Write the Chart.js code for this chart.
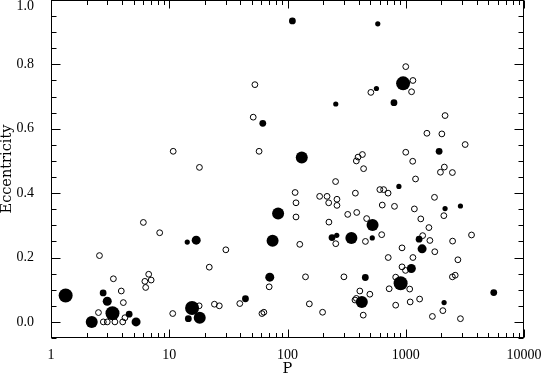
<!DOCTYPE html>
<html>
<head>
<meta charset="utf-8">
<script src="https://cdn.jsdelivr.net/npm/chart.js@4.4.1/dist/chart.umd.min.js"></script>
<style>
  html, body { margin: 0; padding: 0; background: #fff; }
  #wrap { width: 547px; height: 376px; position: relative; }
</style>
</head>
<body>
<div id="wrap"><canvas id="grafico"></canvas></div>
<script>
// ===== dados: [P, excentricidade] =====
const abertos = [
  [53, 0.737], [1000, 0.793], [1150, 0.75], [1120, 0.715], [507, 0.713], [51.3, 0.636], [2150, 0.641],
  [57.5, 0.53], [10.8, 0.53], [18, 0.48], [1510, 0.586], [2020, 0.584], [3180, 0.551], [1000, 0.527],
  [430, 0.52], [395, 0.512], [382, 0.5], [440, 0.476], [1145, 0.499], [1210, 0.444], [2120, 0.481],
  [1965, 0.465], [2480, 0.464], [255, 0.436], [116, 0.402], [118, 0.37], [118, 0.326], [187, 0.39],
  [216, 0.39], [223, 0.37], [262, 0.381], [262, 0.362], [375, 0.4], [604, 0.411], [650, 0.411],
  [709, 0.4], [633, 0.363], [803, 0.359], [1750, 0.387], [1183, 0.351], [385, 0.34], [323, 0.334],
  [467, 0.321], [1340, 0.32], [1570, 0.293], [2100, 0.33], [224, 0.31], [626, 0.271], [3600, 0.27],
  [1390, 0.268], [1600, 0.253], [256, 0.243], [456, 0.25], [2490, 0.251], [127, 0.241], [930, 0.23],
  [1760, 0.218], [1150, 0.2], [711, 0.2], [2760, 0.193], [930, 0.171], [995, 0.16], [822, 0.139],
  [2480, 0.14], [2620, 0.145], [300, 0.14], [142, 0.14], [70, 0.109], [409, 0.096], [724, 0.103],
  [1080, 0.102], [497, 0.086], [372, 0.068], [382, 0.073], [1090, 0.062], [1310, 0.071], [153, 0.056],
  [822, 0.052], [437, 0.021], [198, 0.03], [1680, 0.017], [2060, 0.035], [2900, 0.01],
  [30.1, 0.224], [21.8, 0.17], [39.5, 0.057], [24.1, 0.055], [26.5, 0.05], [17.9, 0.05], [10.7, 0.026],
  [60.8, 0.026], [63.1, 0.03], [8.3, 0.277], [6.04, 0.309], [6.7, 0.148], [6.22, 0.126], [6.32, 0.107],
  [7.03, 0.13], [2.57, 0.206], [3.37, 0.134], [3.93, 0.096], [4.09, 0.06], [2.52, 0.029], [2.77, 0],
  [2.99, 0], [3.47, 0], [4.04, 0], [4.22, 0.013]
];

// pontos cheios, agrupados pelo tamanho do símbolo
const cheiosXL = [[1.33, 0.082], [3.31, 0.027], [15.6, 0.043], [950, 0.741], [905, 0.12]];
const cheiosL = [[2.21, 0], [18.1, 0.013], [74.8, 0.252], [83.3, 0.337], [132, 0.511],
  [347, 0.261], [524, 0.301], [425, 0.062]];
const cheiosM = [[2.99, 0.064], [5.24, 0], [16.9, 0.254], [70.8, 0.139], [1115, 0.166], [1375, 0.227]];
const cheiosS = [[2.76, 0.09], [4.58, 0.024], [14.5, 0.01], [44.1, 0.072], [110, 0.935], [61.8, 0.617],
  [795, 0.681], [1915, 0.53], [5550, 0.091], [455, 0.138], [1297, 0.257], [238, 0.262]];
const cheiosXS = [[580, 0.926], [565, 0.725], [256, 0.677], [261, 0.269], [521, 0.261], [875, 0.421],
  [2150, 0.352], [2900, 0.36], [2110, 0.06], [14.2, 0.248]];

// eixos
const ticksX = [1, 10, 100, 1000, 10000];
const rotulosX = ['1', '10', '100', '1000', '10000'];
const ticksY = [0, 0.2, 0.4, 0.6, 0.8, 1.0];
const rotulosY = ['0.0', '0.2', '0.4', '0.6', '0.8', '1.0'];

const paraPontos = arr => arr.map(p => ({ x: p[0], y: p[1] }));

// moldura e marcas para dentro (estilo IDL)
const moldura = {
  id: 'moldura',
  beforeDatasetsDraw(chart) {
    const { ctx, chartArea: a, scales: { x, y } } = chart;
    const L = Math.round(a.left) + 0.5, R = Math.round(a.right) - 0.5;
    const T = Math.round(a.top) + 0.5, B = Math.round(a.bottom) - 0.5;
    ctx.save();
    ctx.strokeStyle = '#000';
    ctx.lineWidth = 1;
    ctx.strokeRect(L, T, R - L, B - T);
    ctx.beginPath();
    // eixo x: maiores e menores
    for (let d = 1; d <= 10000; d *= 10) {
      for (let k = 1; k <= 9; k++) {
        const v = d * k;
        if (v > 10000) break;
        const px = Math.round(x.getPixelForValue(v)) + 0.5;
        const len = k === 1 ? 8 : 4.5;
        ctx.moveTo(px, B); ctx.lineTo(px, B - len);
        ctx.moveTo(px, T); ctx.lineTo(px, T + len);
      }
    }
    // eixo y: a cada 0.05
    for (let i = -1; i <= 20; i++) {
      const v = i * 0.05;
      const py = Math.round(y.getPixelForValue(v)) + 0.5;
      const len = i % 4 === 0 ? 9 : 5;
      ctx.moveTo(L, py); ctx.lineTo(L + len, py);
      ctx.moveTo(R, py); ctx.lineTo(R - len, py);
    }
    ctx.stroke();
    ctx.restore();
  }
};

const fonteNum = { family: 'Liberation Serif', size: 14 };
const fonteTit = { family: 'DejaVu Serif', size: 14.5, lineHeight: 1 };

const ctx = document.getElementById('grafico').getContext('2d');
const grafico = new Chart(ctx, {
  type: 'scatter',
  data: {
    datasets: [
      { data: paraPontos(cheiosXL), pointRadius: 7, backgroundColor: '#000', borderWidth: 0 },
      { data: paraPontos(cheiosL), pointRadius: 6, backgroundColor: '#000', borderWidth: 0 },
      { data: paraPontos(cheiosM), pointRadius: 4.5, backgroundColor: '#000', borderWidth: 0 },
      { data: paraPontos(cheiosS), pointRadius: 3.4, backgroundColor: '#000', borderWidth: 0 },
      { data: paraPontos(cheiosXS), pointRadius: 2.6, backgroundColor: '#000', borderWidth: 0 },
      { data: paraPontos(abertos), pointRadius: 2.9, backgroundColor: 'rgba(0,0,0,0)', borderColor: '#000', borderWidth: 1 }
    ]
  },
  options: {
    responsive: true,
    maintainAspectRatio: false,
    animation: false,
    devicePixelRatio: 1,
    events: [],
    layout: { autoPadding: false, padding: { top: 0, right: 23, left: 0, bottom: 0 } },
    plugins: { legend: { display: false }, tooltip: { enabled: false } },
    scales: {
      x: {
        type: 'logarithmic',
        min: 1,
        max: 10000,
        grid: { display: false },
        border: { display: false },
        afterBuildTicks: s => { s.ticks = ticksX.map(v => ({ value: v })); },
        afterFit: s => { s.height = 38; s.paddingLeft = 0; s.paddingRight = 0; },
        ticks: {
          autoSkip: false, maxRotation: 0, padding: 1, color: '#000', font: fonteNum,
          callback: (v, i) => rotulosX[i]
        },
        title: { display: true, text: 'P', color: '#000', font: fonteTit, padding: { top: 0, bottom: 0 } }
      },
      y: {
        min: -0.05,
        max: 1.0,
        grid: { display: false },
        border: { display: false },
        afterBuildTicks: s => { s.ticks = ticksY.map(v => ({ value: v })); },
        afterFit: s => { s.width = 51; s.paddingTop = 0; s.paddingBottom = 0; },
        ticks: {
          autoSkip: false, padding: 9, color: '#000', font: { ...fonteNum, lineHeight: 0.9 },
          // o rótulo do topo desce um pouco para caber na figura
          callback: (v, i) => i === ticksY.length - 1 ? ['', rotulosY[i]] : rotulosY[i]
        },
        title: { display: true, text: 'Eccentricity', color: '#000', font: fonteTit, padding: { top: 0, bottom: 0 } }
      }
    }
  },
  plugins: [moldura]
});
</script>
</body>
</html>
